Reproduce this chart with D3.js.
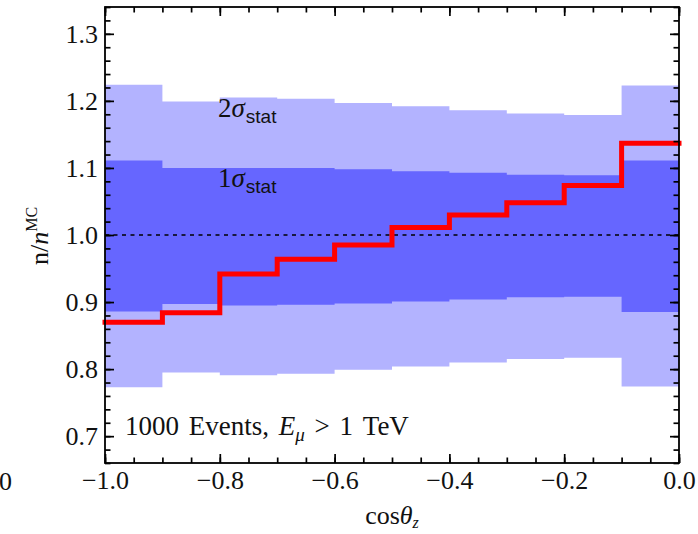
<!DOCTYPE html>
<html>
<head>
<meta charset="utf-8">
<script src="https://cdn.jsdelivr.net/npm/d3@7"></script>
<style>
  body { margin: 0; background: #fff; }
  text { font-family: "Liberation Serif", "DejaVu Serif", serif; }
</style>
</head>
<body>
<div id="chart"></div>
<script>
// bin starts in cos(theta_z); last bin ends at 0
var binStarts = [-1.0, -0.9, -0.8, -0.7, -0.6, -0.5, -0.4, -0.3, -0.2, -0.1]
var binEnd = 0.0

// 2 sigma band (light) and 1 sigma band (dark)
var outerLo = [0.773, 0.795, 0.791, 0.793, 0.799, 0.804, 0.810, 0.815, 0.817, 0.774]
var outerHi = [1.224, 1.199, 1.205, 1.203, 1.197, 1.192, 1.186, 1.181, 1.179, 1.223]
var innerLo = [0.886, 0.897, 0.895, 0.896, 0.898, 0.901, 0.904, 0.907, 0.908, 0.885]
var innerHi = [1.111, 1.100, 1.100, 1.100, 1.098, 1.095, 1.093, 1.090, 1.089, 1.111]

// n / n^MC histogram (red)
var ratio = [0.870, 0.884, 0.942, 0.964, 0.985, 1.011, 1.030, 1.048, 1.074, 1.137]

var xTicks = [-1.0, -0.8, -0.6, -0.4, -0.2, 0.0]
var yTicks = [0.7, 0.8, 0.9, 1.0, 1.1, 1.2, 1.3]

var width = 698
var height = 534
// plot frame (not "top": that name is taken by window.top)
var pLeft = 105, pRight = 679, pTop = 7, pBottom = 463

var x = d3.scaleLinear().domain([-1, 0]).range([pLeft, pRight])
var y = d3.scaleLinear().domain([0.66, 1.34]).range([pBottom, pTop])

var svg = d3.select("#chart")
  .append("svg")
  .attr("width", width)
  .attr("height", height)

// build step rows, repeating the last value at the right edge
function rows(lo, hi) {
  var r = binStarts.map(function (b, i) { return { x: b, lo: lo[i], hi: hi ? hi[i] : null } })
  r.push({ x: binEnd, lo: lo[lo.length - 1], hi: hi ? hi[hi.length - 1] : null })
  return r
}

var band = d3.area()
  .curve(d3.curveStepAfter)
  .x(function (d) { return x(d.x) })
  .y0(function (d) { return y(d.lo) })
  .y1(function (d) { return y(d.hi) })

svg.append("path")
  .datum(rows(outerLo, outerHi))
  .attr("d", band)
  .attr("fill", "#b3b3ff")

svg.append("path")
  .datum(rows(innerLo, innerHi))
  .attr("d", band)
  .attr("fill", "#6666ff")

// reference line at 1
svg.append("line")
  .attr("x1", x(-1)).attr("x2", x(0))
  .attr("y1", y(1)).attr("y2", y(1))
  .attr("stroke", "black")
  .attr("stroke-width", 1.5)
  .attr("stroke-dasharray", "4,4.5")

// red histogram
var step = d3.line()
  .curve(d3.curveStepAfter)
  .x(function (d) { return x(d.x) })
  .y(function (d) { return y(d.lo) })

svg.append("path")
  .datum(rows(ratio))
  .attr("d", step)
  .attr("fill", "none")
  .attr("stroke", "#ff0000")
  .attr("stroke-width", 5)
  .attr("stroke-linecap", "square")

// labels inside the plot
function sigmaLabel(n, ty) {
  var t = svg.append("text").attr("x", 218).attr("y", ty).style("font-size", "27px").attr("fill", "#111")
  t.append("tspan").text(n)
  t.append("tspan").style("font-style", "italic").text("σ")
  t.append("tspan").attr("dy", 6).attr("dx", 1)
    .style("font-family", "'Liberation Sans', Arial, sans-serif")
    .style("font-size", "19px").text("stat")
}
sigmaLabel("2", 117)
sigmaLabel("1", 187)

var ev = svg.append("text").attr("x", 125).attr("y", 435).style("font-size", "27px")
  .style("word-spacing", "3px").attr("fill", "#111")
ev.append("tspan").text("1000 Events, ")
ev.append("tspan").style("font-style", "italic").text("E")
ev.append("tspan").style("font-style", "italic").style("font-size", "19px").attr("dy", 6).text("μ")
ev.append("tspan").attr("dy", -6).text(" > 1 TeV")

// axes: major + minor ticks on all four sides, pointing inward
var fmt = d3.format(".1f")
var xMinor = d3.range(-1, 0.0001, 0.05)
var yMinor = d3.range(0.66, 1.3401, 0.02)

function styleAxis(g) {
  g.selectAll(".domain").remove()
  g.selectAll(".tick line").attr("stroke", "black").attr("stroke-width", 1.7)
  g.selectAll(".tick text").style("font-size", "26px").style("font-family", "'Liberation Serif', serif").attr("fill", "#111")
}

svg.append("g").attr("transform", "translate(0," + pBottom + ")")
  .call(d3.axisBottom(x).tickValues(xMinor).tickSize(-5.5).tickFormat(""))
  .call(styleAxis)
svg.append("g").attr("transform", "translate(0," + pBottom + ")")
  .call(d3.axisBottom(x).tickValues(xTicks).tickSize(-9).tickPadding(8).tickFormat(fmt))
  .call(styleAxis)
svg.append("g").attr("transform", "translate(0," + pTop + ")")
  .call(d3.axisTop(x).tickValues(xMinor).tickSize(-5.5).tickFormat(""))
  .call(styleAxis)
svg.append("g").attr("transform", "translate(0," + pTop + ")")
  .call(d3.axisTop(x).tickValues(xTicks).tickSize(-9).tickFormat(""))
  .call(styleAxis)

svg.append("g").attr("transform", "translate(" + pLeft + ",0)")
  .call(d3.axisLeft(y).tickValues(yMinor).tickSize(-5.5).tickFormat(""))
  .call(styleAxis)
svg.append("g").attr("transform", "translate(" + pLeft + ",0)")
  .call(d3.axisLeft(y).tickValues(yTicks).tickSize(-9).tickPadding(7).tickFormat(fmt))
  .call(styleAxis)
svg.append("g").attr("transform", "translate(" + pRight + ",0)")
  .call(d3.axisRight(y).tickValues(yMinor).tickSize(-5.5).tickFormat(""))
  .call(styleAxis)
svg.append("g").attr("transform", "translate(" + pRight + ",0)")
  .call(d3.axisRight(y).tickValues(yTicks).tickSize(-9).tickFormat(""))
  .call(styleAxis)

// frame
svg.append("rect")
  .attr("x", pLeft).attr("y", pTop)
  .attr("width", pRight - pLeft).attr("height", pBottom - pTop)
  .attr("fill", "none")
  .attr("stroke", "black")
  .attr("stroke-width", 1.8)

// axis titles
var xl = svg.append("text").attr("x", (pLeft + pRight) / 2).attr("y", 524)
  .attr("text-anchor", "middle").style("font-size", "26px").attr("fill", "#111")
xl.append("tspan").text("cos")
xl.append("tspan").style("font-style", "italic").text("θ")
xl.append("tspan").style("font-style", "italic").style("font-size", "16px").attr("dy", 4).text("z")

var yl = svg.append("text")
  .attr("transform", "translate(48,236) rotate(-90)")
  .attr("text-anchor", "middle").style("font-size", "26px").attr("fill", "#111")
yl.append("tspan").text("n/")
yl.append("tspan").style("font-style", "italic").text("n")
yl.append("tspan").style("font-size", "16px").attr("dy", -11).text("MC")

// leftover tick label from the neighbouring panel
svg.append("text").attr("x", -1).attr("y", 490).style("font-size", "26px").attr("fill", "#111").text("0")
</script>
</body>
</html>
